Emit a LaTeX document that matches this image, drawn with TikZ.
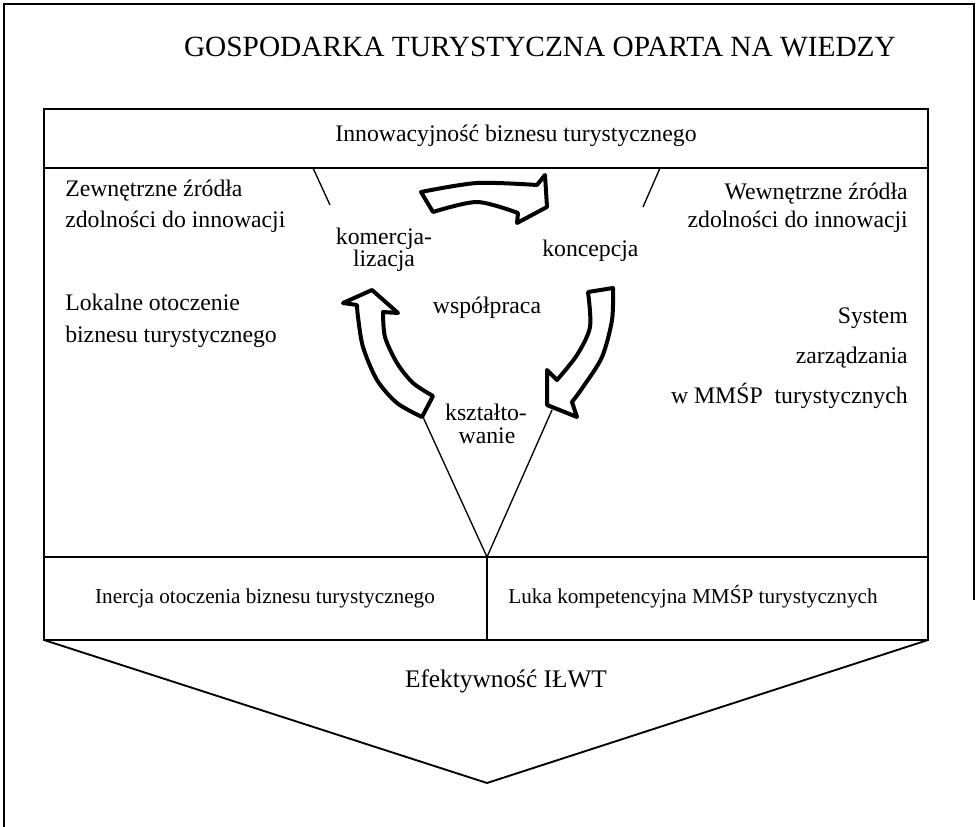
\documentclass[tikz,border=0pt]{standalone}
\usepackage{fontspec}
\setmainfont{Liberation Serif}
\begin{document}
\begin{tikzpicture}[x=0.75pt,y=-0.75pt,
  frame/.style={line width=1.5pt},
  boxline/.style={line width=1.4pt},
  thinline/.style={line width=1pt},
  blockarrow/.style={line width=3pt, fill=white, line join=round},
  txt/.style={inner sep=0pt, font=\fontsize{17.8}{21}\selectfont},
  smalltxt/.style={inner sep=0pt, font=\fontsize{15.9}{19}\selectfont},
  bigtxt/.style={inner sep=0pt, font=\fontsize{19}{23}\selectfont},
  ttl/.style={inner sep=0pt, font=\fontsize{22}{26}\selectfont}]
\useasboundingbox (0,0) rectangle (977,827);
% outer frame
\coordinate (oBL) at (4,827);
\coordinate (oTL) at (4,4);
\coordinate (oTR) at (974,4);
\coordinate (oR) at (974,600);
\draw[frame] (oBL) -- (oTL) -- (oTR) -- (oR);
% main box
\coordinate (bTL) at (44,109);
\coordinate (bBR) at (928,640);
\coordinate (hL) at (44,168);
\coordinate (hR) at (928,168);
\coordinate (sL) at (44,557);
\coordinate (sR) at (928,557);
\coordinate (sM) at (487,557);
\coordinate (dM) at (487,640);
\coordinate (tL) at (44,640);
\coordinate (tR) at (928,640);
\coordinate (apex) at (487,783);
\draw[boxline] (bTL) rectangle (bBR);
\draw[boxline] (hL) -- (hR);
\draw[boxline] (sL) -- (sR);
\draw[boxline] (sM) -- (dM);
\draw[boxline] (tL) -- (apex) -- (tR);
% V lines and short lines
\coordinate (vL) at (423,417);
\coordinate (vR) at (552,410);
\draw[thinline] (vL) -- (sM) -- (vR);
\coordinate (kL1) at (313,168);
\coordinate (kL2) at (330,205);
\coordinate (kR1) at (660,168);
\coordinate (kR2) at (643,207);
\draw[thinline] (kL1) -- (kL2);
\draw[thinline] (kR1) -- (kR2);
% block arrows
\draw[blockarrow] plot[smooth] coordinates {(421,192) (477,183) (537,185)}
  -- (545,175) -- (547,207) -- (517,223)
  -- plot[smooth] coordinates {(518,213) (477,202) (433,212)} -- cycle;
\draw[blockarrow] plot[smooth] coordinates {(613,288) (612,320) (602,357) (583,387) (572,402)}
  -- (577,417) -- (547,405) -- (547,370)
  -- plot[smooth] coordinates {(557,380) (577,355) (590,327) (588,292)} -- cycle;
\draw[blockarrow] plot[smooth] coordinates {(422,417) (397,403) (377,380) (363,347) (358,317) (357,305)}
  -- (343,303) -- (372,290) -- (398,313)
  -- plot[smooth] coordinates {(383,312) (385,337) (397,363) (413,383) (433,396)} -- cycle;
% texts
\node[ttl, anchor=base] (title) at (540,57) {GOSPODARKA TURYSTYCZNA OPARTA NA WIEDZY};
\node[txt, anchor=base] (innov) at (516,142) {Innowacyjność biznesu turystycznego};
\node[txt, anchor=base west] (zew1) at (65,197) {Zewnętrzne źródła};
\node[txt, anchor=base west] (zew2) at (65,228) {zdolności do innowacji};
\node[txt, anchor=base east] (wew1) at (908,200) {Wewnętrzne źródła};
\node[txt, anchor=base east] (wew2) at (908,228) {zdolności do innowacji};
\node[txt, anchor=base west] (lok1) at (65,310) {Lokalne otoczenie};
\node[txt, anchor=base west] (lok2) at (65,342) {biznesu turystycznego};
\node[txt, anchor=base] (kom1) at (384,244) {komercja-};
\node[txt, anchor=base] (kom2) at (384,267) {lizacja};
\node[txt, anchor=base west] (konc) at (542,257) {koncepcja};
\node[txt, anchor=base] (wsp) at (487,313) {współpraca};
\node[txt, anchor=base] (ksz1) at (486,420) {kształto-};
\node[txt, anchor=base] (ksz2) at (487,443) {wanie};
\node[txt, anchor=base east] (sys1) at (908,323) {System};
\node[txt, anchor=base east] (sys2) at (908,363) {zarządzania};
\node[txt, anchor=base east] (sys3) at (908,403) {w MMŚP\ \ turystycznych};
\node[smalltxt, anchor=base] (iner) at (265,603) {Inercja otoczenia biznesu turystycznego};
\node[smalltxt, anchor=base] (luka) at (693,603) {Luka kompetencyjna MMŚP turystycznych};
\node[bigtxt, anchor=base] (efek) at (506,687) {Efektywność IŁWT};
\end{tikzpicture}
\end{document}
